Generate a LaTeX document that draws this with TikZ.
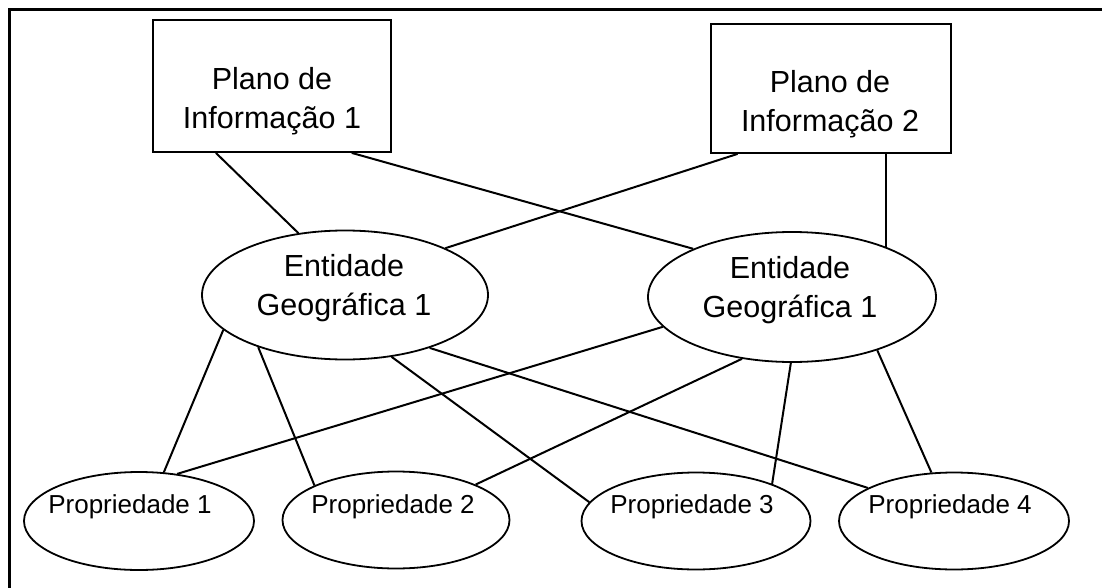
\documentclass[tikz,border=0pt]{standalone}
\usepackage{fontspec}
\setmainfont{Liberation Sans}
\usetikzlibrary{shapes.geometric}
\begin{document}
\begin{tikzpicture}[x=1pt,y=-1pt,
  plano/.style={draw, line width=1.8pt, inner sep=0pt},
  ent/.style={draw, ellipse, line width=1.8pt, inner sep=0pt},
  big/.style={font=\fontsize{30.5}{39}\selectfont, align=center, inner sep=0pt},
  small/.style={font=\fontsize{26}{30}\selectfont, inner sep=0pt, anchor=base},
  link/.style={line width=2pt},
  frame/.style={line width=3pt}]
\useasboundingbox (0,0) rectangle (1102,588);
% frame (top and left edges only)
\coordinate (ftr) at (1102,10);
\coordinate (ftl) at (9,10);
\coordinate (fbl) at (9,588);
\draw[frame] (ftr) -- (ftl) -- (fbl);
% planos
\node[plano, minimum width=238pt, minimum height=132pt] (b1) at (272,86) {};
\node[plano, minimum width=240pt, minimum height=129pt] (b2) at (831,88.5) {};
\node[big] (b1t) at (272,101) {Plano de\\Informação 1};
\node[big] (b2t) at (830,104) {Plano de\\Informação 2};
% entidades
\node[ent, minimum width=286pt, minimum height=129pt] (e1) at (345,295) {};
\node[ent, minimum width=288pt, minimum height=130pt] (e2) at (792,297) {};
\node[big] (e1t) at (344,288) {Entidade\\Geográfica 1};
\node[big] (e2t) at (790,290) {Entidade\\Geográfica 1};
% propriedades
\node[ent, minimum width=230pt, minimum height=98pt] (p1) at (139,521) {};
\node[ent, minimum width=227pt, minimum height=97pt] (p2) at (396,520) {};
\node[ent, minimum width=229pt, minimum height=97pt] (p3) at (696,521) {};
\node[ent, minimum width=230pt, minimum height=97pt] (p4) at (954,521) {};
\node[small] (p1t) at (130,513) {Propriedade 1};
\node[small] (p2t) at (393,513) {Propriedade 2};
\node[small] (p3t) at (692,513) {Propriedade 3};
\node[small] (p4t) at (950,513) {Propriedade 4};
% connectors
\draw[link] (b1.230.7) -- (e1.127.7);
\draw[link] (b1.320.8) -- (e2.154.8);
\draw[link] (b2.215.5) -- (e1.25.6);
\draw[link] (b2.310.7) -- (b2.310.7 |- e2.27.3);
\draw[link] (e1.196.4) -- (p1.63.9);
\draw[link] (e1.211.6) -- (p2.157.7);
\draw[link] (e1.307.7) -- (p3.170.1);
\draw[link] (e1.328.6) -- (p4.159.6);
\draw[link] (e2.193.5) -- (p1.51.6);
\draw[link] (e2.231.7) -- (p2.24.9);
\draw[link] (e2.269) -- (p3.26.6);
\draw[link] (e2.328.9) -- (p4.115.6);
\end{tikzpicture}
\end{document}
